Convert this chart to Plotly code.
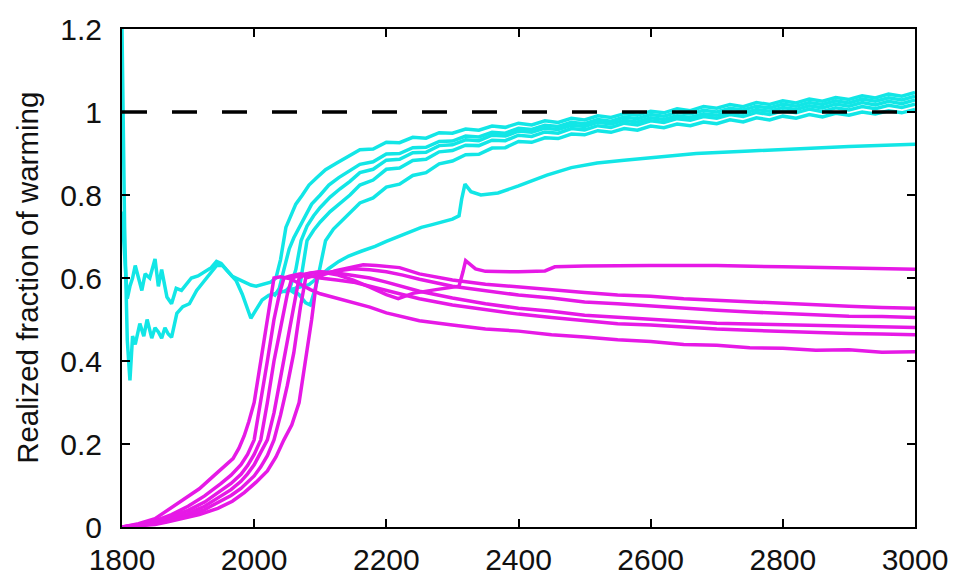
import plotly.graph_objects as go

# ---------------- data ----------------
TAIL_YEARS = list(range(2160, 3001, 20))

# cyan line 1: early upper noisy line that turns into the highest steep curve
cyan1_head_years = [1800, 1804, 1808, 1812, 1816, 1820, 1825, 1830, 1835, 1842, 1850, 1855, 1860,
                    1868, 1875, 1882, 1890, 1897, 1905, 1915, 1925, 1935, 1943, 1950, 1958, 1967,
                    1975, 1985, 1995, 2003, 2015, 2025, 2033, 2040, 2048, 2055, 2063, 2073, 2083,
                    2095, 2108, 2125, 2143]
cyan1_head_vals = [0.76, 0.66, 0.55, 0.58, 0.60, 0.63, 0.60, 0.57, 0.61, 0.60, 0.646, 0.58, 0.62,
                   0.554, 0.538, 0.575, 0.57, 0.585, 0.60, 0.605, 0.615, 0.625, 0.64, 0.635, 0.62, 0.604,
                   0.598, 0.59, 0.583, 0.58, 0.585, 0.59, 0.60, 0.645, 0.722, 0.75, 0.778, 0.80, 0.824,
                   0.842, 0.861, 0.877, 0.893]
cyan1_tail_vals = [0.909, 0.911, 0.927, 0.926, 0.939, 0.937, 0.950, 0.949, 0.959, 0.956, 0.966,
                   0.963, 0.973, 0.969, 0.979, 0.975, 0.985, 0.981, 0.991, 0.987, 0.996, 0.992,
                   1.002, 0.998, 1.008, 1.003, 1.013, 1.009, 1.018, 1.013, 1.023, 1.018, 1.027,
                   1.022, 1.031, 1.026, 1.035, 1.030, 1.039, 1.034, 1.043, 1.038, 1.047]

cyan2_head_years = [2030, 2038, 2045, 2053, 2060, 2068, 2077, 2087, 2100, 2113, 2128, 2143]
cyan2_head_vals = [0.555, 0.575, 0.62, 0.67, 0.697, 0.722, 0.75, 0.778, 0.80, 0.824, 0.842, 0.858]
cyan2_tail_vals = [0.874, 0.880, 0.899, 0.900, 0.914, 0.915, 0.929, 0.930, 0.942, 0.940, 0.951,
                   0.949, 0.961, 0.958, 0.968, 0.965, 0.975, 0.972, 0.982, 0.978, 0.988, 0.984,
                   0.994, 0.990, 0.999, 0.995, 1.004, 1.000, 1.009, 1.005, 1.014, 1.010, 1.019,
                   1.014, 1.023, 1.018, 1.027, 1.022, 1.031, 1.026, 1.034, 1.029, 1.038]

cyan3_head_years = [2045, 2055, 2063, 2071, 2080, 2090, 2100, 2115, 2130, 2145]
cyan3_head_vals = [0.565, 0.58, 0.62, 0.69, 0.725, 0.75, 0.77, 0.795, 0.815, 0.833]
cyan3_tail_vals = [0.854, 0.862, 0.884, 0.886, 0.902, 0.903, 0.919, 0.921, 0.933, 0.931, 0.944,
                   0.942, 0.954, 0.951, 0.961, 0.958, 0.968, 0.965, 0.975, 0.971, 0.980, 0.976,
                   0.986, 0.982, 0.991, 0.987, 0.996, 0.992, 1.001, 0.997, 1.006, 1.002, 1.011,
                   1.006, 1.015, 1.010, 1.019, 1.014, 1.023, 1.017, 1.026, 1.020, 1.029]

cyan4_head_years = [2050, 2060, 2070, 2080, 2090, 2100, 2115, 2130, 2145]
cyan4_head_vals = [0.575, 0.565, 0.59, 0.69, 0.715, 0.735, 0.76, 0.78, 0.80]
cyan4_tail_vals = [0.824, 0.836, 0.862, 0.865, 0.883, 0.886, 0.904, 0.907, 0.920, 0.919, 0.932,
                   0.931, 0.944, 0.941, 0.952, 0.949, 0.960, 0.957, 0.967, 0.963, 0.973, 0.969,
                   0.979, 0.975, 0.984, 0.980, 0.989, 0.985, 0.994, 0.989, 0.999, 0.994, 1.003,
                   0.998, 1.007, 1.001, 1.010, 1.005, 1.013, 1.008, 1.016, 1.011, 1.019]

cyan5_head_years = [2055, 2068, 2078, 2085, 2095, 2108, 2120, 2135, 2148]
cyan5_head_vals = [0.575, 0.56, 0.54, 0.535, 0.59, 0.69, 0.718, 0.742, 0.76]
cyan5_tail_vals = [0.781, 0.793, 0.819, 0.826, 0.847, 0.854, 0.875, 0.882, 0.897, 0.898, 0.913,
                   0.914, 0.929, 0.927, 0.938, 0.936, 0.947, 0.945, 0.955, 0.951, 0.960, 0.956,
                   0.966, 0.962, 0.971, 0.967, 0.976, 0.972, 0.981, 0.976, 0.986, 0.981, 0.990,
                   0.985, 0.994, 0.988, 0.997, 0.992, 1.000, 0.995, 1.003, 0.998, 1.006]

# cyan line 6: early lower noisy line, slow rise with a jump near 2320
cyan6_years = [1800, 1804, 1808, 1812, 1816, 1820, 1827, 1833, 1838, 1845, 1850, 1855, 1860, 1865,
               1870, 1875, 1883, 1892, 1902, 1913, 1922, 1932, 1943, 1952, 1962, 1973, 1982, 1990,
               1995, 2003, 2012, 2022, 2038, 2050, 2065, 2083, 2098, 2113, 2128, 2143, 2163, 2183,
               2200, 2218, 2235, 2253, 2268, 2283, 2300, 2310, 2314, 2319, 2328, 2343, 2369, 2400,
               2443, 2480, 2519, 2560, 2600, 2669, 2750, 2819, 2900, 3000]
cyan6_vals = [1.2, 0.72, 0.45, 0.353, 0.46, 0.44, 0.49, 0.46, 0.50, 0.455, 0.48, 0.47, 0.455, 0.48,
              0.465, 0.457, 0.515, 0.531, 0.538, 0.57, 0.588, 0.607, 0.63, 0.63, 0.612, 0.593, 0.561, 0.524,
              0.503, 0.524, 0.547, 0.558, 0.565, 0.57, 0.575, 0.584, 0.603, 0.623, 0.64, 0.653, 0.665, 0.676,
              0.688, 0.70, 0.71, 0.722, 0.728, 0.734, 0.742, 0.75, 0.79, 0.826, 0.808, 0.80, 0.805, 0.822,
              0.848, 0.866, 0.877, 0.884, 0.89, 0.90, 0.906, 0.912, 0.917, 0.922]

# magenta lines
mag1_years = [1800, 1825, 1850, 1868, 1890, 1917, 1940, 1955, 1968, 1977, 1985, 1992, 2000, 2007,
              2015, 2022, 2030, 2040, 2055, 2070, 2085, 2100, 2125, 2150, 2175, 2200, 2225, 2250,
              2300, 2350, 2400, 2450, 2500, 2550, 2600, 2650, 2700, 2750, 2800, 2850, 2900, 2950, 3000]
mag1_vals = [0.0, 0.008, 0.02, 0.04, 0.062, 0.092, 0.125, 0.146, 0.165, 0.19, 0.22, 0.254, 0.30, 0.37,
             0.445, 0.52, 0.60, 0.603, 0.598, 0.585, 0.572, 0.562, 0.552, 0.54, 0.53, 0.516, 0.506, 0.497,
             0.487, 0.477, 0.472, 0.463, 0.458, 0.451, 0.447, 0.44, 0.438, 0.432, 0.431, 0.426, 0.427, 0.421, 0.422]

mag2_years = [1800, 1825, 1850, 1875, 1900, 1925, 1950, 1965, 1980, 1990, 2000, 2010, 2020, 2030,
              2038, 2045, 2055, 2070, 2085, 2100, 2125, 2150, 2175, 2200, 2225, 2250, 2300, 2350,
              2400, 2450, 2500, 2550, 2600, 2650, 2700, 2750, 2800, 2850, 2900, 2950, 3000]
mag2_vals = [0.0, 0.006, 0.015, 0.03, 0.05, 0.075, 0.105, 0.125, 0.15, 0.175, 0.21, 0.30, 0.40, 0.50,
             0.56, 0.60, 0.605, 0.61, 0.605, 0.60, 0.595, 0.59, 0.58, 0.57, 0.559, 0.55, 0.535, 0.524,
             0.513, 0.505, 0.497, 0.49, 0.487, 0.481, 0.477, 0.474, 0.471, 0.469, 0.466, 0.465, 0.463]

mag3_years = [1800, 1825, 1850, 1875, 1900, 1925, 1950, 1965, 1980, 1990, 2000, 2010, 2020, 2030,
              2040, 2050, 2057, 2070, 2085, 2100, 2125, 2150, 2175, 2200, 2225, 2250, 2300, 2350,
              2400, 2450, 2500, 2550, 2600, 2650, 2700, 2750, 2800, 2850, 2900, 2950, 3000]
mag3_vals = [0.0, 0.004, 0.012, 0.025, 0.04, 0.06, 0.088, 0.105, 0.127, 0.148, 0.175, 0.21, 0.30, 0.40,
             0.48, 0.56, 0.60, 0.607, 0.612, 0.615, 0.612, 0.607, 0.60, 0.59, 0.58, 0.568, 0.552, 0.538,
             0.527, 0.52, 0.51, 0.505, 0.50, 0.494, 0.491, 0.489, 0.487, 0.485, 0.484, 0.482, 0.481]

mag4_years = [1800, 1825, 1850, 1875, 1900, 1925, 1950, 1965, 1980, 1990, 2000, 2010, 2020, 2030,
              2040, 2050, 2060, 2068, 2080, 2100, 2125, 2150, 2175, 2200, 2218, 2240, 2275, 2310,
              2316, 2320, 2335, 2350, 2400, 2440, 2455, 2500, 2600, 2700, 2800, 2900, 3000]
mag4_vals = [0.0, 0.003, 0.01, 0.02, 0.033, 0.05, 0.075, 0.09, 0.11, 0.128, 0.15, 0.178, 0.21, 0.275,
             0.36, 0.45, 0.54, 0.60, 0.61, 0.615, 0.608, 0.595, 0.578, 0.56, 0.55, 0.563, 0.572, 0.58,
             0.615, 0.642, 0.622, 0.616, 0.615, 0.617, 0.627, 0.629, 0.63, 0.63, 0.627, 0.624, 0.621]

mag5_years = [1800, 1825, 1850, 1875, 1900, 1925, 1950, 1965, 1980, 1990, 2000, 2010, 2020, 2030,
              2040, 2050, 2060, 2070, 2078, 2090, 2100, 2125, 2150, 2175, 2200, 2225, 2250, 2300,
              2350, 2400, 2450, 2500, 2550, 2600, 2650, 2700, 2750, 2800, 2850, 2900, 2950, 3000]
mag5_vals = [0.0, 0.003, 0.008, 0.016, 0.027, 0.042, 0.062, 0.076, 0.093, 0.107, 0.123, 0.145, 0.172,
             0.21, 0.27, 0.34, 0.42, 0.53, 0.60, 0.605, 0.61, 0.617, 0.622, 0.62, 0.615, 0.607, 0.597,
             0.58, 0.57, 0.559, 0.552, 0.542, 0.538, 0.532, 0.527, 0.522, 0.518, 0.514, 0.512, 0.508,
             0.507, 0.505]

mag6_years = [1800, 1825, 1850, 1868, 1890, 1917, 1945, 1967, 1985, 2003, 2020, 2033, 2045, 2057,
              2068, 2078, 2087, 2095, 2105, 2125, 2150, 2165, 2185, 2200, 2220, 2250, 2300, 2350,
              2400, 2450, 2500, 2550, 2600, 2650, 2700, 2750, 2800, 2850, 2900, 2950, 3000]
mag6_vals = [0.0, 0.002, 0.006, 0.012, 0.02, 0.03, 0.045, 0.062, 0.083, 0.108, 0.135, 0.169, 0.21,
             0.246, 0.30, 0.40, 0.50, 0.60, 0.608, 0.618, 0.628, 0.632, 0.63, 0.628, 0.625, 0.61, 0.595,
             0.585, 0.578, 0.57, 0.565, 0.559, 0.556, 0.55, 0.546, 0.542, 0.539, 0.535, 0.532, 0.529, 0.527]

REF_LEVEL = 1.0
X_TICKS = [1800, 2000, 2200, 2400, 2600, 2800, 3000]
Y_TICKS = [0, 0.2, 0.4, 0.6, 0.8, 1.0, 1.2]
Y_TICK_TEXT = ["0", "0.2", "0.4", "0.6", "0.8", "1", "1.2"]
Y_TITLE = "Realized fraction of warming"

CYAN = "#12e6e6"
MAGENTA = "#e619e6"
FONT = "Liberation Sans, Arial, sans-serif"
LW = 3.5

# ---------------- figure ----------------
fig = go.Figure()

cyan_series = [
    (cyan1_head_years + TAIL_YEARS, cyan1_head_vals + cyan1_tail_vals),
    (cyan2_head_years + TAIL_YEARS, cyan2_head_vals + cyan2_tail_vals),
    (cyan3_head_years + TAIL_YEARS, cyan3_head_vals + cyan3_tail_vals),
    (cyan4_head_years + TAIL_YEARS, cyan4_head_vals + cyan4_tail_vals),
    (cyan5_head_years + TAIL_YEARS, cyan5_head_vals + cyan5_tail_vals),
    (cyan6_years, cyan6_vals),
]
for xs, ys in cyan_series:
    fig.add_trace(go.Scatter(x=xs, y=ys, mode="lines", line=dict(color=CYAN, width=LW),
                             showlegend=False, hoverinfo="skip"))

mag_series = [(mag1_years, mag1_vals), (mag2_years, mag2_vals), (mag3_years, mag3_vals),
              (mag4_years, mag4_vals), (mag5_years, mag5_vals), (mag6_years, mag6_vals)]
for xs, ys in mag_series:
    fig.add_trace(go.Scatter(x=xs, y=ys, mode="lines", line=dict(color=MAGENTA, width=LW),
                             showlegend=False, hoverinfo="skip"))

fig.add_trace(go.Scatter(x=[X_TICKS[0], X_TICKS[-1]], y=[REF_LEVEL, REF_LEVEL], mode="lines",
                         line=dict(color="black", width=3.5, dash="25px,25px"),
                         showlegend=False, hoverinfo="skip"))

axis_common = dict(showgrid=False, zeroline=False, showline=True, linecolor="black", linewidth=2,
                   mirror="ticks", ticks="inside", ticklen=8, tickwidth=2, tickcolor="black",
                   tickfont=dict(family=FONT, size=30, color="#111"))

fig.update_xaxes(range=[1800, 3000], tickvals=X_TICKS, ticktext=[str(v) for v in X_TICKS],
                 ticklabelstandoff=5, **axis_common)
fig.update_yaxes(range=[0, 1.2], tickvals=Y_TICKS, ticktext=Y_TICK_TEXT,
                 ticklabelstandoff=12, **axis_common)

fig.add_annotation(text=Y_TITLE, xref="paper", yref="paper", x=-0.12, y=0.5,
                   xanchor="center", yanchor="middle", textangle=-90, showarrow=False,
                   font=dict(family=FONT, size=29.5, color="#111"))

fig.update_layout(width=960, height=588, margin=dict(l=122, r=40, t=20, b=48),
                  paper_bgcolor="white", plot_bgcolor="white")

fig.write_html("out.html")
